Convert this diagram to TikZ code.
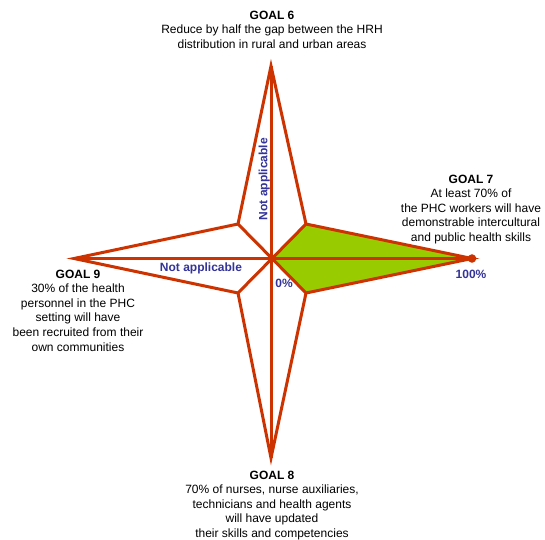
\documentclass[tikz,border=0pt]{standalone}
\usepackage{fontspec}
\setmainfont{Liberation Sans}
\usepackage{tikz}
\definecolor{axred}{RGB}{204,51,0}
\definecolor{areagreen}{RGB}{153,204,0}
\definecolor{lblue}{RGB}{51,51,153}
\tikzset{
  ax/.style={draw=axred,line width=2.25pt,line join=miter},
  area/.style={fill=areagreen},
  gtxt/.style={align=center,inner sep=0pt,anchor=north,font=\fontsize{9}{10.9}\selectfont},
  pct/.style={inner sep=0pt,anchor=base,text=lblue,font=\fontsize{9}{10.9}\selectfont\bfseries}
}
\newcommand{\goal}[2]{\textbf{GOAL #1}\\#2}

\begin{document}
\begin{tikzpicture}[x=0.75pt,y=-0.75pt]
\useasboundingbox (0,0) rectangle (545,539);
\coordinate (c) at (271,258.5);
\coordinate (t6) at (271,66); \coordinate (t7) at (472,258.5);
\coordinate (t8) at (271,458); \coordinate (t9) at (74,258.5);
\coordinate (ul) at (238,224); \coordinate (ur) at (306,224);
\coordinate (lr) at (306,293); \coordinate (ll) at (238,293);
% reached share on goal 7
\fill[area] (c) -- (ur) -- (t7) -- (lr) -- cycle;
\draw[ax] (t6) -- (ur) -- (t7) -- (lr) -- (t8) -- (ll) -- (t9) -- (ul) -- cycle;
\draw[ax] (t6) -- (t8); \draw[ax] (t9) -- (t7);
\draw[ax] (ul) -- (lr); \draw[ax] (ur) -- (ll);
\fill[axred] (t7) circle (3.2pt);
\node[gtxt] (g6) at (272,10.7) {\goal{6}{Reduce by half the gap between the HRH\\distribution in rural and urban areas}};
\node[gtxt] (g7) at (471,174.7) {\goal{7}{At least 70\% of\\the PHC workers will have\\demonstrable intercultural\\and public health skills}};
\node[gtxt] (g8) at (272,470.7) {\goal{8}{70\% of nurses, nurse auxiliaries,\\technicians and health agents\\will have updated\\their skills and competencies}};
\node[gtxt] (g9) at (78,269.7) {\goal{9}{30\% of the health\\personnel in the PHC\\setting will have\\been recruited from their\\own communities}};
\node[pct] (na9) at (201,271) {Not applicable};
\node[pct,rotate=90] (na6) at (267.3,179) {Not applicable};
\node[pct] (p0) at (284,287.3) {0\%};
\node[pct] (p100) at (471,278.3) {100\%};
\end{tikzpicture}
\end{document}
